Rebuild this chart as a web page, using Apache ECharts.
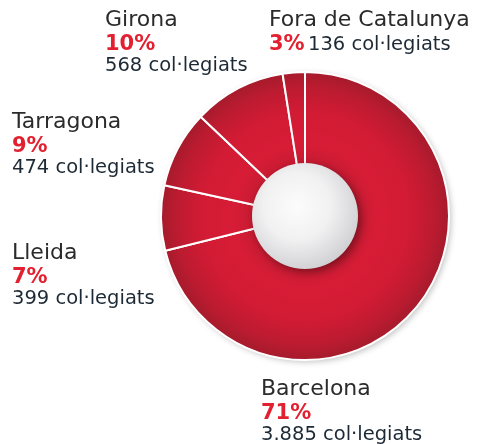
<!DOCTYPE html>
<html><head><meta charset="utf-8">
<script src="https://cdn.jsdelivr.net/npm/echarts@6/dist/echarts.min.js"></script>
<style>html,body{margin:0;padding:0;background:#fff}#c{width:486px;height:444px}</style>
</head><body><div id="c"></div>
<script>
var categories = ['Barcelona', 'Lleida', 'Tarragona', 'Girona', 'Fora de Catalunya'];
var values = [3885, 399, 474, 568, 136];
var percentLabels = ['71%', '7%', '9%', '10%', '3%'];
var countLabels = ['3.885', '399', '474', '568', '136'];
var inlineCount = [false, false, false, false, true];
var labelAnchors = [[261, 377], [12, 241], [12, 110], [105, 8], [269, 8]];

var CX = 305, CY = 216, R = 144, RI = 53;
var chart = echarts.init(document.getElementById('c'));
var ringGrad = {type: 'radial', x: CX, y: CY, r: R, global: true, colorStops: [
  {offset: 0, color: '#d21b34'}, {offset: 0.37, color: '#c81b32'}, {offset: 0.5, color: '#d71c36'},
  {offset: 0.72, color: '#d21b34'}, {offset: 0.9, color: '#bb1b30'}, {offset: 1, color: '#a51b2c'}]};
var data = categories.map(function (n, i) {
  return {name: n, value: values[i]};
});
chart.setOption({
  animation: false,
  series: [
    {type: 'pie', silent: true, radius: [0, R], center: [CX, CY], z: 1,
     label: {show: false}, labelLine: {show: false},
     itemStyle: {color: '#a51b2c', shadowBlur: 6, shadowColor: 'rgba(0,0,0,0.25)', shadowOffsetX: 2, shadowOffsetY: 2},
     data: [{value: 1}]},
    {type: 'pie', radius: [0, R], center: [CX, CY], startAngle: 90, clockwise: true, z: 2,
     avoidLabelOverlap: false, silent: true,
     itemStyle: {color: ringGrad, borderColor: '#ffffff', borderWidth: 2},
     labelLine: {show: false},
     label: {
       show: true, position: 'outside',
       formatter: function (p) {
         var i = p.dataIndex;
         return '{n|' + categories[i] + '}\n{p|' + percentLabels[i] + '}' +
           (inlineCount[i] ? ' ' : '\n') + '{c|' + countLabels[i] + ' col·legiats}';
       },
       rich: {
         n: {fontFamily: 'DejaVu Sans', fontSize: 22, color: '#2b2b2b', lineHeight: 24},
         p: {fontFamily: 'DejaVu Sans', fontWeight: 'bold', fontSize: 21, color: '#e2202f', lineHeight: 25},
         c: {fontFamily: 'DejaVu Sans', fontSize: 19.5, color: '#1d2a35', lineHeight: 18}
       }
     },
     labelLayout: function (p) {
       var a = labelAnchors[p.dataIndex];
       return {x: a[0], y: a[1], align: 'left', verticalAlign: 'top'};
     },
     data: data},
    {type: 'pie', silent: true, radius: [0, RI], center: [CX, CY], z: 3,
     label: {show: false}, labelLine: {show: false},
     itemStyle: {color: {type: 'radial', x: CX - 8, y: CY - 10, r: RI + 14, global: true, colorStops: [
       {offset: 0, color: '#fcfcfc'}, {offset: 0.5, color: '#f1f1f2'}, {offset: 1, color: '#cfcfd2'}]},
       shadowBlur: 10, shadowColor: 'rgba(0,0,0,0.4)', shadowOffsetX: 3, shadowOffsetY: 3},
     data: [{value: 1}]}
  ]
});
</script></body></html>
